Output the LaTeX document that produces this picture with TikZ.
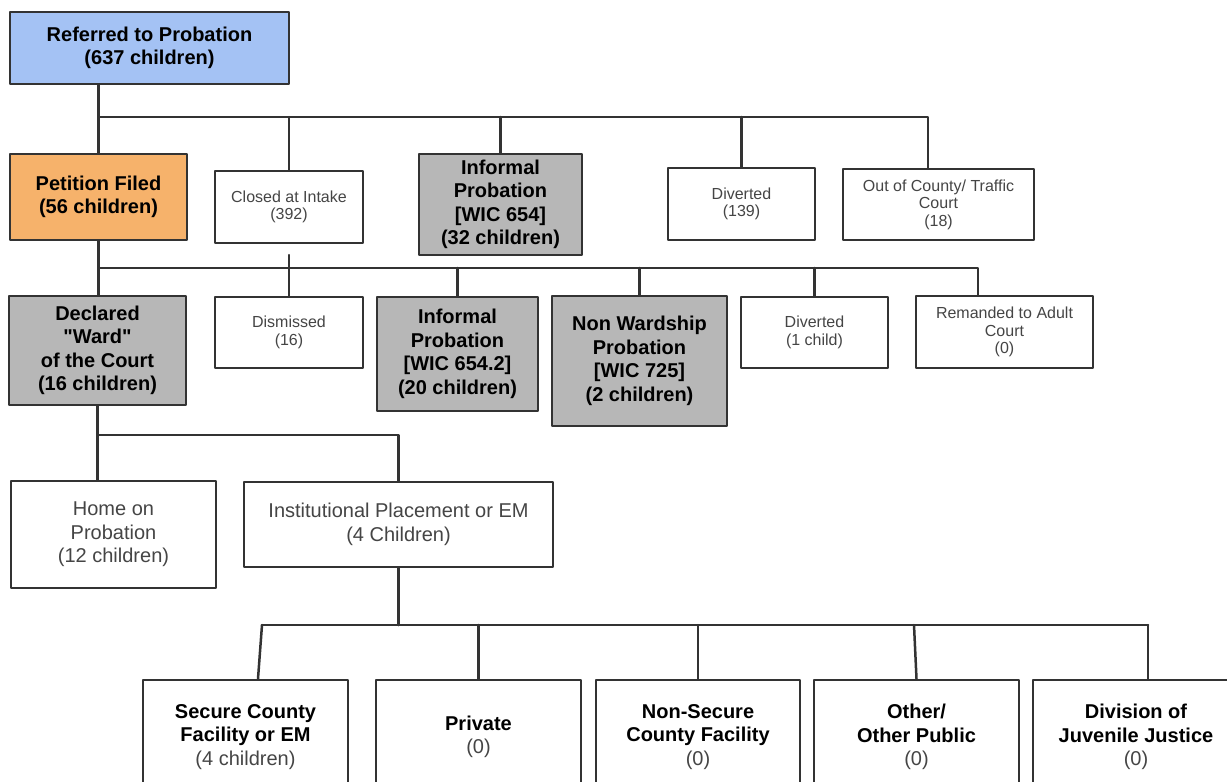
\documentclass[tikz,border=0pt]{standalone}
\usepackage{fontspec}
\setmainfont{Liberation Sans}[Ligatures=TeXOff]
\definecolor{qqqqqq}{rgb}{0.2,0.2,0.2}
\definecolor{aeccfq}{rgb}{0.643,0.761,0.957}
\definecolor{fqbbgg}{rgb}{0.965,0.698,0.42}
\definecolor{cccccc}{rgb}{0.718,0.718,0.718}
\definecolor{tttttt}{rgb}{0.27,0.27,0.27}

\begin{document}
\begin{tikzpicture}[line cap=round,line join=round,x=1.0pt,y=-1.0pt,
  boxnode/.style={draw=qqqqqq,line width=2.5pt,align=center,inner sep=0pt,text=black},
  boldtext/.style={font=\fontsize{20}{23.5}\selectfont\bfseries},
  plaintext/.style={font=\fontsize{20}{23.5}\selectfont,text=tttttt},
  smalltext/.style={font=\fontsize{16}{17.5}\selectfont,text=tttttt},
  link/.style={draw=qqqqqq,line width=2.5pt}]
\useasboundingbox (0,0) rectangle (1227,782);
\clip (0,0) rectangle (1227,782);
% top level
\node[boxnode,boldtext,fill=aeccfq,minimum width=279pt,minimum height=72pt] (ref) at (149.5,48) {Referred to Probation\\(637 children)};
\node[boxnode,boldtext,fill=fqbbgg,minimum width=177pt,minimum height=86pt] (pet) at (98.5,197) {Petition Filed\\(56 children)};
\node[boxnode,smalltext,fill=white,minimum width=148pt,minimum height=72pt] (cai) at (289,207) {Closed at Intake\\(392)};
\node[boxnode,boldtext,fill=cccccc,minimum width=163pt,minimum height=101pt] (ipa) at (500.5,204.5) {Informal\\Probation\\{[WIC 654]}\\(32 children)};
\node[boxnode,smalltext,fill=white,minimum width=147pt,minimum height=72pt] (dva) at (741.5,204) {Diverted\\(139)};
\node[boxnode,smalltext,fill=white,minimum width=191pt,minimum height=71pt] (occ) at (938.5,204.5) {Out of County/ Traffic\\Court\\(18)};
% petition level
\node[boxnode,boldtext,fill=cccccc,minimum width=177pt,minimum height=109pt] (dec) at (97.5,350.5) {Declared\\"Ward"\\of the Court\\(16 children)};
\node[boxnode,smalltext,fill=white,minimum width=148pt,minimum height=71pt] (dis) at (289,332.5) {Dismissed\\(16)};
\node[boxnode,boldtext,fill=cccccc,minimum width=161pt,minimum height=114pt] (ipb) at (457.5,354) {Informal\\Probation\\{[WIC 654.2]}\\(20 children)};
\node[boxnode,boldtext,fill=cccccc,minimum width=175pt,minimum height=130pt] (nwp) at (639.5,361) {Non Wardship\\Probation\\{[WIC 725]}\\(2 children)};
\node[boxnode,smalltext,fill=white,minimum width=147pt,minimum height=71pt] (dvb) at (814.5,332.5) {Diverted\\(1 child)};
\node[boxnode,smalltext,fill=white,minimum width=177pt,minimum height=72pt] (rem) at (1004.5,332) {Remanded to Adult\\Court\\(0)};
% ward level
\node[boxnode,plaintext,fill=white,minimum width=205pt,minimum height=107pt] (home) at (113.5,534.5) {Home on\\Probation\\(12 children)};
\node[boxnode,plaintext,fill=white,minimum width=309pt,minimum height=85pt] (inst) at (398.5,524.5) {Institutional Placement or EM\\(4 Children)};
% placements
\node[boxnode,boldtext,fill=white,minimum width=205pt,minimum height=114pt] (sec) at (245.5,737) {Secure County\\Facility or EM\\\textcolor{tttttt}{\mdseries(4 children)}};
\node[boxnode,boldtext,fill=white,minimum width=205pt,minimum height=114pt] (pri) at (478.5,737) {Private\\\textcolor{tttttt}{\mdseries(0)}};
\node[boxnode,boldtext,fill=white,minimum width=204pt,minimum height=114pt] (nsc) at (698,737) {Non-Secure\\County Facility\\\textcolor{tttttt}{\mdseries(0)}};
\node[boxnode,boldtext,fill=white,minimum width=205pt,minimum height=114pt] (oth) at (916.5,737) {Other/\\Other Public\\\textcolor{tttttt}{\mdseries(0)}};
\node[boxnode,boldtext,fill=white,minimum width=206pt,minimum height=114pt] (djj) at (1136,737) {Division of\\Juvenile Justice\\\textcolor{tttttt}{\mdseries(0)}};
% bus ends
\coordinate (a1) at (928,117);
\coordinate (b1) at (978,268);
\coordinate (bstub) at (289,255);
\coordinate (c1) at (398.5,435);
\coordinate (d0) at (262,625);
\coordinate (d1) at (1148,625);
% connectors
\draw[link] (ref.south -| pet.north) -- (pet.north);
\draw[link] (pet.north |- a1) -- (a1) -- (a1 |- occ.north);
\draw[link] (cai.north |- a1) -- (cai.north);
\draw[link] (ipa.north |- a1) -- (ipa.north);
\draw[link] (dva.north |- a1) -- (dva.north);
\draw[link] (pet.south) -- (pet.south |- dec.north);
\draw[link] (pet.south |- b1) -- (b1) -- (b1 |- rem.north);
\draw[link] (bstub) -- (dis.north);
\draw[link] (ipb.north |- b1) -- (ipb.north);
\draw[link] (nwp.north |- b1) -- (nwp.north);
\draw[link] (dvb.north |- b1) -- (dvb.north);
\draw[link] (dec.south) -- (dec.south |- home.north);
\draw[link] (dec.south |- c1) -- (c1) -- (inst.north);
\draw[link] (inst.south) -- (inst.south |- d0);
\draw[link] (d0) -- (d1);
\draw[link] (d0) -- ([xshift=12.5pt]sec.north);
\draw[link] (pri.north |- d0) -- (pri.north);
\draw[link] (nsc.north |- d0) -- (nsc.north);
\draw[link] ([xshift=-2.5pt]oth.north |- d0) -- (oth.north);
\draw[link] (d1) -- ([xshift=12pt]djj.north);
\end{tikzpicture}
\end{document}
